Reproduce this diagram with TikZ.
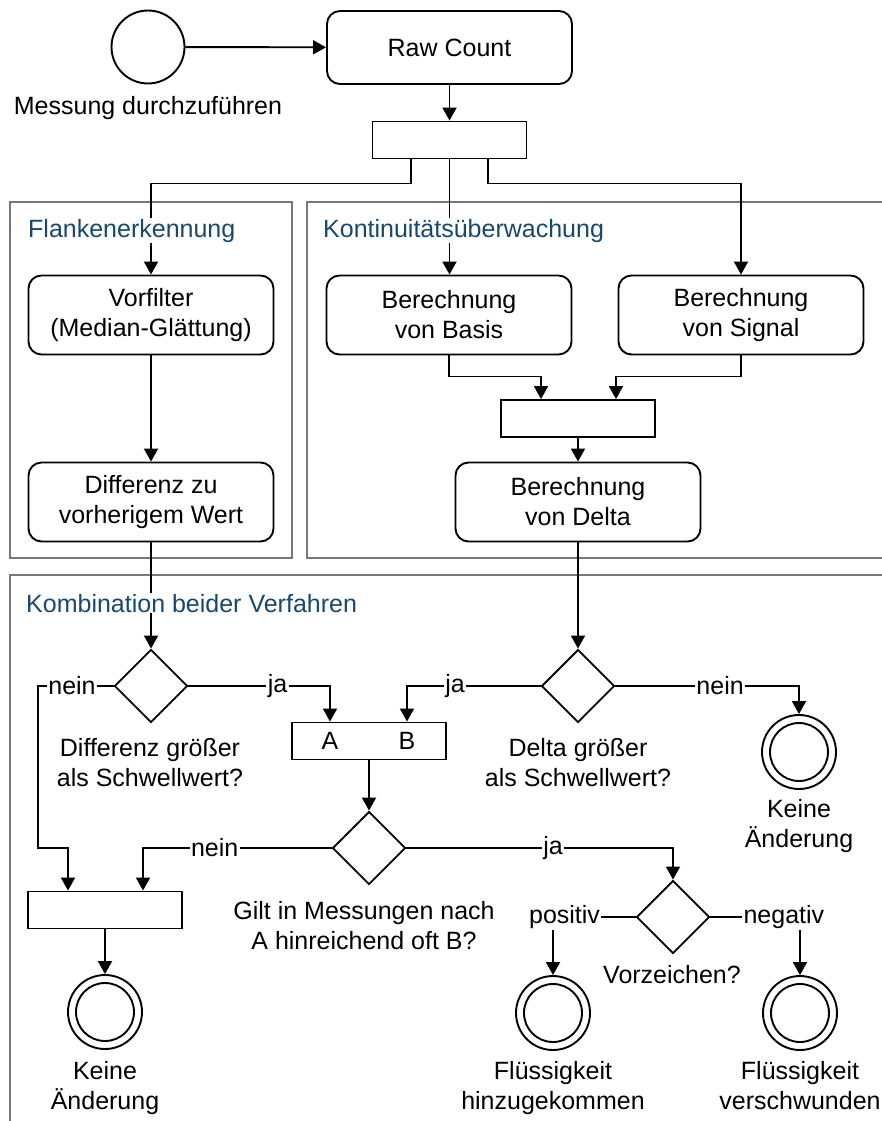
\documentclass[tikz,border=0pt]{standalone}
\usepackage{fontspec}
\setmainfont{Liberation Sans}
\usetikzlibrary{arrows.meta,shapes.geometric}
\definecolor{titleblue}{RGB}{24,72,110}
\definecolor{framegray}{RGB}{120,120,120}
\begin{document}
\begin{tikzpicture}[x=1pt,y=-1pt,
  every node/.style={font=\fontsize{25}{30}\selectfont, inner sep=0pt},
  wire/.style={line width=1.9pt},
  flow/.style={line width=1.9pt,-{Triangle[width=14pt,length=13pt]}},
  action/.style={draw,line width=1.9pt,rounded corners=13pt,minimum width=245pt,minimum height=79pt,align=center},
  bar/.style={draw,line width=1.9pt,minimum width=154pt,minimum height=37pt},
  decision/.style={draw,diamond,line width=1.9pt,minimum width=73pt,minimum height=73pt,aspect=1},
  startnode/.style={draw,circle,line width=1.9pt,minimum size=73pt},
  final/.style={draw,circle,line width=1.9pt,minimum size=74pt,
    path picture={\draw[line width=1.9pt] (path picture bounding box.center) circle[radius=29pt];}},
  lbl/.style={fill=white,inner sep=1.5pt},
  caption/.style={align=center},
  frame/.style={draw=framegray,line width=1.7pt},
  grouptitle/.style={anchor=base west,text=titleblue,fill=white,inner sep=1pt}
]
\useasboundingbox (0,0) rectangle (881,1121);

% group frames
\draw[frame] (10,202) rectangle (292,558);
\draw[frame] (307,202) rectangle (900,558);
\draw[frame] (10,575) rectangle (900,1140);

% start and preprocessing
\node[startnode] (start) at (148,47) {};
\node[caption] (startlbl) at (148,108) {Messung durchzuführen};
\node[action,minimum height=73pt] (raw) at (449.5,47.5) {Raw Count};
\node[bar] (fork1) at (449.5,140) {};

% edge detection
\node[action] (vorfilter) at (151,315) {Vorfilter\\(Median-Glättung)};
\node[action] (diff) at (151,502) {Differenz zu\\vorherigem Wert};

% continuity monitoring
\node[action] (basis) at (449,315) {Berechnung\\von Basis};
\node[action] (signal) at (741,315) {Berechnung\\von Signal};
\node[bar] (join2) at (578,418.5) {};
\node[action] (delta) at (578,502) {Berechnung\\von Delta};

% combination
\node[decision] (d1) at (151,686) {};
\node[caption] (d1lbl) at (150,763) {Differenz größer\\als Schwellwert?};
\node[decision] (d2) at (578,686) {};
\node[caption] (d2lbl) at (578,763) {Delta größer\\als Schwellwert?};
\node[bar] (ab) at (369,741) {};
\node (la) at (330,741) {A};
\node (lb) at (407,741) {B};
\node[final] (e1) at (799,752) {};
\node[caption] (e1lbl) at (799,826) {Keine\\Änderung};

\node[decision] (d3) at (369,848) {};
\node[caption] (d3lbl) at (364,926) {Gilt in Messungen nach\\A hinreichend oft B?};
\node[bar] (join3) at (105,910) {};
\node[final] (e2) at (105,1012) {};
\node[caption] (e2lbl) at (105,1088) {Keine\\Änderung};

\node[decision] (d4) at (673,917) {};
\node[caption] (d4lbl) at (672,975) {Vorzeichen?};
\node[final] (e3) at (553,1013) {};
\node[caption] (e3lbl) at (553,1088) {Flüssigkeit\\hinzugekommen};
\node[final] (e4) at (800,1013) {};
\node[caption] (e4lbl) at (800,1085.5) {Flüssigkeit\\verschwunden};

% connectors
\draw[flow] (start) -- (raw);
\draw[flow] (raw) -- (fork1);
\draw[flow] ([xshift=-38.5pt]fork1.south) -- ++(0,24) -| (vorfilter);
\draw[flow] (fork1.south) -- (fork1.south |- basis.north);
\draw[flow] ([xshift=38.5pt]fork1.south) -- ++(0,24) -| (signal);
\draw[flow] (vorfilter) -- (diff);
\draw[flow] (basis.south) -- ++(0,21) -| ([xshift=-37pt]join2.north);
\draw[flow] (signal.south) -- ++(0,21) -| ([xshift=38pt]join2.north);
\draw[flow] (join2) -- (delta);
\draw[flow] (diff) -- (d1);
\draw[flow] (delta) -- (d2);

\draw[flow] (d1.west) -- node[lbl,pos=0.55]{nein} (38,686) -- (38,848) -| ([xshift=-37pt]join3.north);
\draw[flow] (d1.east) -- node[lbl,pos=0.63]{ja} ([xshift=-39pt]ab.north |- d1.east) -- ([xshift=-39pt]ab.north);
\draw[flow] (d2.west) -- node[lbl,pos=0.64]{ja} ([xshift=38pt]ab.north |- d2.west) -- ([xshift=38pt]ab.north);
\draw[flow] (d2.east) -- node[lbl,pos=0.57]{nein} (e1.north |- d2.east) -- (e1.north);
\draw[flow] (ab) -- (d3);
\draw[flow] (d3.west) -- node[lbl,pos=0.62]{nein} ([xshift=38pt]join3.north |- d3.west) -- ([xshift=38pt]join3.north);
\draw[flow] (d3.east) -- node[lbl,pos=0.55]{ja} (d4.north |- d3.east) -- (d4.north);
\draw[flow] (join3) -- (e2);
\draw[flow] (d4.west) -- node[lbl,pos=0.86]{positiv} (e3.north |- d4.west) -- (e3.north);
\draw[flow] (d4.east) -- node[lbl,pos=0.82]{negativ} (e4.north |- d4.east) -- (e4.north);

% group titles
\node[grouptitle] (t1) at (27,237) {Flankenerkennung};
\node[grouptitle] (t2) at (322,237) {Kontinuitätsüberwachung};
\node[grouptitle] (t3) at (25,612) {Kombination beider Verfahren};
\end{tikzpicture}
\end{document}
